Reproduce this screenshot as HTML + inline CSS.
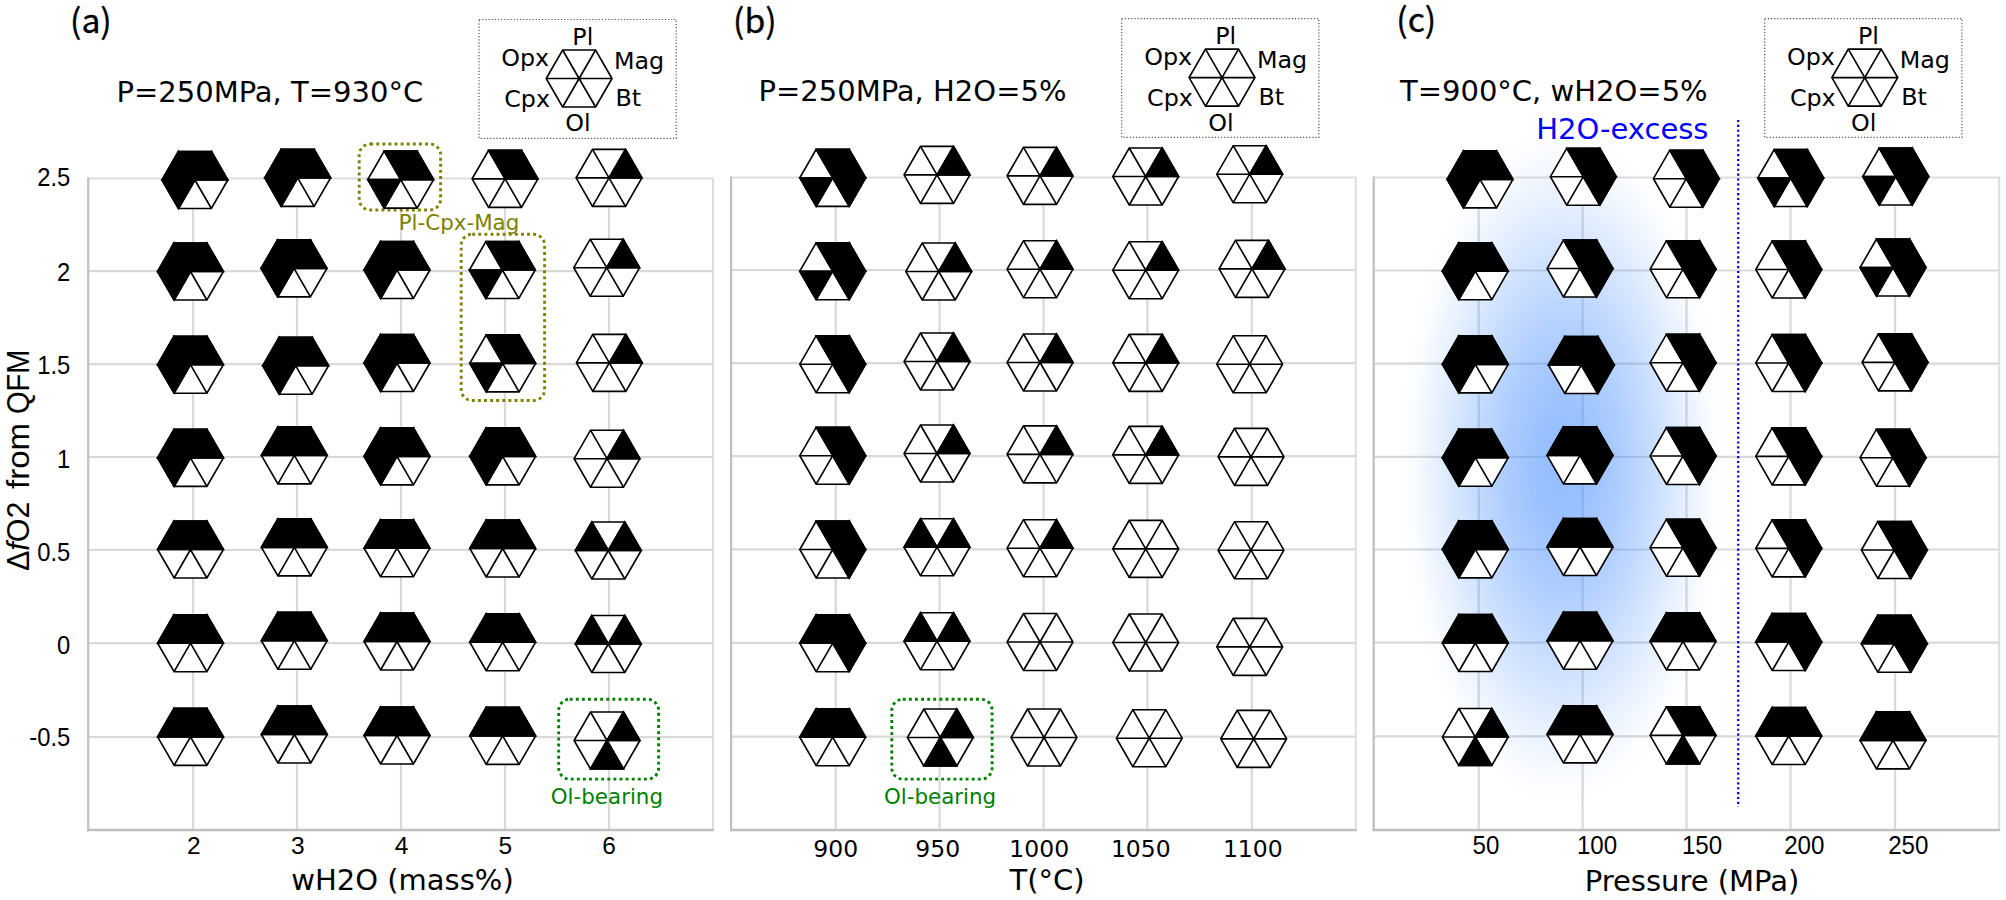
<!DOCTYPE html>
<html lang="en"><head><meta charset="utf-8"><title>Phase diagrams</title>
<style>
html,body{margin:0;padding:0;background:#fff;overflow:hidden}
svg{display:block}
.dj{font-family:"DejaVu Sans","Liberation Sans",sans-serif}
.ar{font-family:"Liberation Sans",sans-serif}
.h{fill:#fff;stroke:#000;stroke-width:1.65;stroke-linejoin:miter}
.k{fill:#000;stroke:#000;stroke-width:1.65;stroke-linejoin:miter}
.l{fill:none;stroke:#000;stroke-width:1.65}
.g{stroke:#d9d9d9;stroke-width:2.2;fill:none}
.s{stroke:#bfbfbf;stroke-width:2.2;fill:none}
.t{font-size:29px}
.nt{font-family:"Noto Sans CJK SC","Liberation Sans",sans-serif;font-size:33.7px;stroke:#000;stroke-width:0.35px}
.lg{font-size:23.8px}
.ta{font-size:24.5px}
.tb{font-size:23.5px}
</style></head><body>
<svg width="2006" height="900" viewBox="0 0 2006 900">
<defs>
<radialGradient id="glow" cx="0.5" cy="0.5" r="0.5">
<stop offset="0" stop-color="#4a90ff" stop-opacity="0.6"/>
<stop offset="0.2" stop-color="#4a90ff" stop-opacity="0.54"/>
<stop offset="0.4" stop-color="#4a90ff" stop-opacity="0.42"/>
<stop offset="0.6" stop-color="#4a90ff" stop-opacity="0.27"/>
<stop offset="0.8" stop-color="#4a90ff" stop-opacity="0.11"/>
<stop offset="0.92" stop-color="#4a90ff" stop-opacity="0.03"/>
<stop offset="1" stop-color="#4a90ff" stop-opacity="0"/>
</radialGradient>
</defs>
<rect width="2006" height="900" fill="#fff"/>
<path class="g" d="M193.1 178.4V830M297 178.4V830M401 178.4V830M505 178.4V830M609 178.4V830M88.2 271.2H713M88.2 364.2H713M88.2 457H713M88.2 549.9H713M88.2 643.2H713M88.2 737.2H713"/><path class="g" style="stroke:#dedede;stroke-width:2" d="M88.2 178.4H713V830"/><path class="s" d="M88.2 177.4V831.3"/><path class="s" style="stroke-width:2.7" d="M87.1 830H714"/><path class="g" d="M835.7 177.5V830M939.5 177.5V830M1043.5 177.5V830M1147.4 177.5V830M1251.8 177.5V830M731.1 270H1355.8M731.1 363.2H1355.8M731.1 456.1H1355.8M731.1 549.3H1355.8M731.1 642.8H1355.8M731.1 736.6H1355.8"/><path class="g" style="stroke:#dedede;stroke-width:2" d="M731.1 177.5H1355.8V830"/><path class="s" d="M731.1 176.5V831.3"/><path class="s" style="stroke-width:2.7" d="M730 830H1356.8"/><path class="g" d="M1478.7 177.5V830M1582.6 177.5V830M1686.5 177.5V830M1790.5 177.5V830M1895.1 177.5V830M1373.7 270.5H1999.2M1373.7 363.6H1999.2M1373.7 456.8H1999.2M1373.7 549.5H1999.2M1373.7 642.7H1999.2M1373.7 736.3H1999.2"/><path class="g" style="stroke:#dedede;stroke-width:2" d="M1373.7 177.5H1999.2V830"/><path class="s" d="M1373.7 176.5V831.3"/><path class="s" style="stroke-width:2.7" d="M1372.6 830H2000.2"/><ellipse cx="1562" cy="466" rx="163" ry="342" fill="url(#glow)"/><path d="M1738.2 120V807" stroke="#0404ee" stroke-width="2.3" stroke-dasharray="2.1 2.77" fill="none"/><rect x="359.2" y="144" width="81.4" height="66" rx="11" ry="11" fill="none" stroke="#808000" stroke-width="2.9" stroke-dasharray="2.9 3.2"/><rect x="461.2" y="234.2" width="83.4" height="166.3" rx="11" ry="11" fill="none" stroke="#808000" stroke-width="2.9" stroke-dasharray="2.9 3.2"/><rect x="558.7" y="699.3" width="99.9" height="79.8" rx="11" ry="11" fill="none" stroke="#008000" stroke-width="2.9" stroke-dasharray="2.9 3.2"/><rect x="891.8" y="699.3" width="100.3" height="79.8" rx="11" ry="11" fill="none" stroke="#008000" stroke-width="2.9" stroke-dasharray="2.9 3.2"/><polygon class="h" points="227.8,180 211.4,208.5 178.5,208.5 162,180 178.4,151.5 211.4,151.5"/><path class="k" d="M194.9 180L162 180L178.4 151.5ZM194.9 180L178.4 151.5L211.4 151.5ZM194.9 180L211.4 151.5L227.8 180ZM194.9 180L178.5 208.5L162 180Z"/><path class="l" d="M227.8 180L162 180M211.4 208.5L178.4 151.5M178.5 208.5L211.4 151.5"/><polygon class="h" points="330.6,177.8 314.1,206.3 281.2,206.3 264.8,177.8 281.2,149.3 314.1,149.3"/><path class="k" d="M297.7 177.8L264.8 177.8L281.2 149.3ZM297.7 177.8L281.2 149.3L314.1 149.3ZM297.7 177.8L314.1 149.3L330.6 177.8ZM297.7 177.8L281.2 206.3L264.8 177.8Z"/><path class="l" d="M330.6 177.8L264.8 177.8M314.1 206.3L281.2 149.3M281.2 206.3L314.1 149.3"/><polygon class="h" points="433.6,179.6 417.1,208.1 384.2,208.1 367.8,179.6 384.2,151.1 417.1,151.1"/><path class="k" d="M400.7 179.6L384.2 151.1L417.1 151.1ZM400.7 179.6L417.1 151.1L433.6 179.6ZM400.7 179.6L384.2 208.1L367.8 179.6Z"/><path class="l" d="M433.6 179.6L367.8 179.6M417.1 208.1L384.2 151.1M384.2 208.1L417.1 151.1"/><polygon class="h" points="537.9,178.8 521.5,207.3 488.6,207.3 472.1,178.8 488.6,150.3 521.5,150.3"/><path class="k" d="M505 178.8L488.6 150.3L521.5 150.3ZM505 178.8L521.5 150.3L537.9 178.8Z"/><path class="l" d="M537.9 178.8L472.1 178.8M521.5 207.3L488.6 150.3M488.6 207.3L521.5 150.3"/><polygon class="h" points="641.9,177.8 625.5,206.3 592.5,206.3 576.1,177.8 592.5,149.3 625.5,149.3"/><path class="k" d="M609 177.8L625.5 149.3L641.9 177.8Z"/><path class="l" d="M641.9 177.8L576.1 177.8M625.5 206.3L592.5 149.3M592.5 206.3L625.5 149.3"/><polygon class="h" points="223.4,271.5 206.9,300 174.1,300 157.6,271.5 174,243 206.9,243"/><path class="k" d="M190.5 271.5L157.6 271.5L174 243ZM190.5 271.5L174 243L206.9 243ZM190.5 271.5L206.9 243L223.4 271.5ZM190.5 271.5L174.1 300L157.6 271.5Z"/><path class="l" d="M223.4 271.5L157.6 271.5M206.9 300L174 243M174.1 300L206.9 243"/><polygon class="h" points="326.9,268.3 310.4,296.8 277.6,296.8 261.1,268.3 277.6,239.8 310.4,239.8"/><path class="k" d="M294 268.3L261.1 268.3L277.6 239.8ZM294 268.3L277.6 239.8L310.4 239.8ZM294 268.3L310.4 239.8L326.9 268.3ZM294 268.3L277.6 296.8L261.1 268.3Z"/><path class="l" d="M326.9 268.3L261.1 268.3M310.4 296.8L277.6 239.8M277.6 296.8L310.4 239.8"/><polygon class="h" points="429.9,270 413.4,298.5 380.6,298.5 364.1,270 380.6,241.5 413.4,241.5"/><path class="k" d="M397 270L364.1 270L380.6 241.5ZM397 270L380.6 241.5L413.4 241.5ZM397 270L413.4 241.5L429.9 270ZM397 270L380.6 298.5L364.1 270Z"/><path class="l" d="M429.9 270L364.1 270M413.4 298.5L380.6 241.5M380.6 298.5L413.4 241.5"/><polygon class="h" points="535.2,270 518.8,298.5 485.9,298.5 469.4,270 485.9,241.5 518.8,241.5"/><path class="k" d="M502.3 270L485.9 241.5L518.8 241.5ZM502.3 270L518.8 241.5L535.2 270ZM502.3 270L485.9 298.5L469.4 270Z"/><path class="l" d="M535.2 270L469.4 270M518.8 298.5L485.9 241.5M485.9 298.5L518.8 241.5"/><polygon class="h" points="639.6,267.7 623.2,296.2 590.2,296.2 573.8,267.7 590.2,239.2 623.2,239.2"/><path class="k" d="M606.7 267.7L623.2 239.2L639.6 267.7Z"/><path class="l" d="M639.6 267.7L573.8 267.7M623.2 296.2L590.2 239.2M590.2 296.2L623.2 239.2"/><polygon class="h" points="223.4,364.7 206.9,393.2 174.1,393.2 157.6,364.7 174,336.2 206.9,336.2"/><path class="k" d="M190.5 364.7L157.6 364.7L174 336.2ZM190.5 364.7L174 336.2L206.9 336.2ZM190.5 364.7L206.9 336.2L223.4 364.7ZM190.5 364.7L174.1 393.2L157.6 364.7Z"/><path class="l" d="M223.4 364.7L157.6 364.7M206.9 393.2L174 336.2M174.1 393.2L206.9 336.2"/><polygon class="h" points="328.6,365.7 312.1,394.2 279.2,394.2 262.8,365.7 279.2,337.2 312.1,337.2"/><path class="k" d="M295.7 365.7L262.8 365.7L279.2 337.2ZM295.7 365.7L279.2 337.2L312.1 337.2ZM295.7 365.7L312.1 337.2L328.6 365.7ZM295.7 365.7L279.2 394.2L262.8 365.7Z"/><path class="l" d="M328.6 365.7L262.8 365.7M312.1 394.2L279.2 337.2M279.2 394.2L312.1 337.2"/><polygon class="h" points="429.9,363 413.4,391.5 380.6,391.5 364.1,363 380.6,334.5 413.4,334.5"/><path class="k" d="M397 363L364.1 363L380.6 334.5ZM397 363L380.6 334.5L413.4 334.5ZM397 363L413.4 334.5L429.9 363ZM397 363L380.6 391.5L364.1 363Z"/><path class="l" d="M429.9 363L364.1 363M413.4 391.5L380.6 334.5M380.6 391.5L413.4 334.5"/><polygon class="h" points="535.6,363.3 519.1,391.8 486.2,391.8 469.8,363.3 486.2,334.8 519.1,334.8"/><path class="k" d="M502.7 363.3L486.2 334.8L519.1 334.8ZM502.7 363.3L519.1 334.8L535.6 363.3ZM502.7 363.3L486.2 391.8L469.8 363.3Z"/><path class="l" d="M535.6 363.3L469.8 363.3M519.1 391.8L486.2 334.8M486.2 391.8L519.1 334.8"/><polygon class="h" points="642.2,362.8 625.8,391.3 592.8,391.3 576.4,362.8 592.8,334.3 625.8,334.3"/><path class="k" d="M609.3 362.8L625.8 334.3L642.2 362.8Z"/><path class="l" d="M642.2 362.8L576.4 362.8M625.8 391.3L592.8 334.3M592.8 391.3L625.8 334.3"/><polygon class="h" points="223.4,457.8 206.9,486.3 174.1,486.3 157.6,457.8 174,429.3 206.9,429.3"/><path class="k" d="M190.5 457.8L157.6 457.8L174 429.3ZM190.5 457.8L174 429.3L206.9 429.3ZM190.5 457.8L206.9 429.3L223.4 457.8ZM190.5 457.8L174.1 486.3L157.6 457.8Z"/><path class="l" d="M223.4 457.8L157.6 457.8M206.9 486.3L174 429.3M174.1 486.3L206.9 429.3"/><polygon class="h" points="327.2,455.3 310.8,483.8 277.9,483.8 261.4,455.3 277.9,426.8 310.8,426.8"/><path class="k" d="M294.3 455.3L261.4 455.3L277.9 426.8ZM294.3 455.3L277.9 426.8L310.8 426.8ZM294.3 455.3L310.8 426.8L327.2 455.3Z"/><path class="l" d="M327.2 455.3L261.4 455.3M310.8 483.8L277.9 426.8M277.9 483.8L310.8 426.8"/><polygon class="h" points="429.9,456.3 413.4,484.8 380.6,484.8 364.1,456.3 380.6,427.8 413.4,427.8"/><path class="k" d="M397 456.3L364.1 456.3L380.6 427.8ZM397 456.3L380.6 427.8L413.4 427.8ZM397 456.3L413.4 427.8L429.9 456.3ZM397 456.3L380.6 484.8L364.1 456.3Z"/><path class="l" d="M429.9 456.3L364.1 456.3M413.4 484.8L380.6 427.8M380.6 484.8L413.4 427.8"/><polygon class="h" points="535.6,456.3 519.1,484.8 486.2,484.8 469.8,456.3 486.2,427.8 519.1,427.8"/><path class="k" d="M502.7 456.3L469.8 456.3L486.2 427.8ZM502.7 456.3L486.2 427.8L519.1 427.8ZM502.7 456.3L519.1 427.8L535.6 456.3ZM502.7 456.3L486.2 484.8L469.8 456.3Z"/><path class="l" d="M535.6 456.3L469.8 456.3M519.1 484.8L486.2 427.8M486.2 484.8L519.1 427.8"/><polygon class="h" points="639.9,458.7 623.5,487.2 590.5,487.2 574.1,458.7 590.5,430.2 623.5,430.2"/><path class="k" d="M607 458.7L623.5 430.2L639.9 458.7Z"/><path class="l" d="M639.9 458.7L574.1 458.7M623.5 487.2L590.5 430.2M590.5 487.2L623.5 430.2"/><polygon class="h" points="223.4,549.5 206.9,578 174.1,578 157.6,549.5 174,521 206.9,521"/><path class="k" d="M190.5 549.5L157.6 549.5L174 521ZM190.5 549.5L174 521L206.9 521ZM190.5 549.5L206.9 521L223.4 549.5Z"/><path class="l" d="M223.4 549.5L157.6 549.5M206.9 578L174 521M174.1 578L206.9 521"/><polygon class="h" points="327.2,547.3 310.8,575.8 277.9,575.8 261.4,547.3 277.9,518.8 310.8,518.8"/><path class="k" d="M294.3 547.3L261.4 547.3L277.9 518.8ZM294.3 547.3L277.9 518.8L310.8 518.8ZM294.3 547.3L310.8 518.8L327.2 547.3Z"/><path class="l" d="M327.2 547.3L261.4 547.3M310.8 575.8L277.9 518.8M277.9 575.8L310.8 518.8"/><polygon class="h" points="429.9,548.2 413.4,576.7 380.6,576.7 364.1,548.2 380.6,519.7 413.4,519.7"/><path class="k" d="M397 548.2L364.1 548.2L380.6 519.7ZM397 548.2L380.6 519.7L413.4 519.7ZM397 548.2L413.4 519.7L429.9 548.2Z"/><path class="l" d="M429.9 548.2L364.1 548.2M413.4 576.7L380.6 519.7M380.6 576.7L413.4 519.7"/><polygon class="h" points="535.6,548.5 519.1,577 486.2,577 469.8,548.5 486.2,520 519.1,520"/><path class="k" d="M502.7 548.5L469.8 548.5L486.2 520ZM502.7 548.5L486.2 520L519.1 520ZM502.7 548.5L519.1 520L535.6 548.5Z"/><path class="l" d="M535.6 548.5L469.8 548.5M519.1 577L486.2 520M486.2 577L519.1 520"/><polygon class="h" points="641.2,550.5 624.8,579 591.8,579 575.4,550.5 591.8,522 624.8,522"/><path class="k" d="M608.3 550.5L575.4 550.5L591.8 522ZM608.3 550.5L624.8 522L641.2 550.5Z"/><path class="l" d="M641.2 550.5L575.4 550.5M624.8 579L591.8 522M591.8 579L624.8 522"/><polygon class="h" points="223.4,643.2 206.9,671.7 174.1,671.7 157.6,643.2 174,614.7 206.9,614.7"/><path class="k" d="M190.5 643.2L157.6 643.2L174 614.7ZM190.5 643.2L174 614.7L206.9 614.7ZM190.5 643.2L206.9 614.7L223.4 643.2Z"/><path class="l" d="M223.4 643.2L157.6 643.2M206.9 671.7L174 614.7M174.1 671.7L206.9 614.7"/><polygon class="h" points="327.2,640.7 310.8,669.2 277.9,669.2 261.4,640.7 277.9,612.2 310.8,612.2"/><path class="k" d="M294.3 640.7L261.4 640.7L277.9 612.2ZM294.3 640.7L277.9 612.2L310.8 612.2ZM294.3 640.7L310.8 612.2L327.2 640.7Z"/><path class="l" d="M327.2 640.7L261.4 640.7M310.8 669.2L277.9 612.2M277.9 669.2L310.8 612.2"/><polygon class="h" points="429.9,641.5 413.4,670 380.6,670 364.1,641.5 380.6,613 413.4,613"/><path class="k" d="M397 641.5L364.1 641.5L380.6 613ZM397 641.5L380.6 613L413.4 613ZM397 641.5L413.4 613L429.9 641.5Z"/><path class="l" d="M429.9 641.5L364.1 641.5M413.4 670L380.6 613M380.6 670L413.4 613"/><polygon class="h" points="535.6,642.2 519.1,670.7 486.2,670.7 469.8,642.2 486.2,613.7 519.1,613.7"/><path class="k" d="M502.7 642.2L469.8 642.2L486.2 613.7ZM502.7 642.2L486.2 613.7L519.1 613.7ZM502.7 642.2L519.1 613.7L535.6 642.2Z"/><path class="l" d="M535.6 642.2L469.8 642.2M519.1 670.7L486.2 613.7M486.2 670.7L519.1 613.7"/><polygon class="h" points="641.2,644 624.8,672.5 591.8,672.5 575.4,644 591.8,615.5 624.8,615.5"/><path class="k" d="M608.3 644L575.4 644L591.8 615.5ZM608.3 644L624.8 615.5L641.2 644Z"/><path class="l" d="M641.2 644L575.4 644M624.8 672.5L591.8 615.5M591.8 672.5L624.8 615.5"/><polygon class="h" points="223.4,736.8 206.9,765.3 174.1,765.3 157.6,736.8 174,708.3 206.9,708.3"/><path class="k" d="M190.5 736.8L157.6 736.8L174 708.3ZM190.5 736.8L174 708.3L206.9 708.3ZM190.5 736.8L206.9 708.3L223.4 736.8Z"/><path class="l" d="M223.4 736.8L157.6 736.8M206.9 765.3L174 708.3M174.1 765.3L206.9 708.3"/><polygon class="h" points="327.2,734.5 310.8,763 277.9,763 261.4,734.5 277.9,706 310.8,706"/><path class="k" d="M294.3 734.5L261.4 734.5L277.9 706ZM294.3 734.5L277.9 706L310.8 706ZM294.3 734.5L310.8 706L327.2 734.5Z"/><path class="l" d="M327.2 734.5L261.4 734.5M310.8 763L277.9 706M277.9 763L310.8 706"/><polygon class="h" points="429.9,735.5 413.4,764 380.6,764 364.1,735.5 380.6,707 413.4,707"/><path class="k" d="M397 735.5L364.1 735.5L380.6 707ZM397 735.5L380.6 707L413.4 707ZM397 735.5L413.4 707L429.9 735.5Z"/><path class="l" d="M429.9 735.5L364.1 735.5M413.4 764L380.6 707M380.6 764L413.4 707"/><polygon class="h" points="535.6,735.8 519.1,764.3 486.2,764.3 469.8,735.8 486.2,707.3 519.1,707.3"/><path class="k" d="M502.7 735.8L469.8 735.8L486.2 707.3ZM502.7 735.8L486.2 707.3L519.1 707.3ZM502.7 735.8L519.1 707.3L535.6 735.8Z"/><path class="l" d="M535.6 735.8L469.8 735.8M519.1 764.3L486.2 707.3M486.2 764.3L519.1 707.3"/><polygon class="h" points="639.9,740.5 623.5,769 590.5,769 574.1,740.5 590.5,712 623.5,712"/><path class="k" d="M607 740.5L623.5 712L639.9 740.5ZM607 740.5L623.5 769L590.5 769Z"/><path class="l" d="M639.9 740.5L574.1 740.5M623.5 769L590.5 712M590.5 769L623.5 712"/>
<polygon class="h" points="865.6,177.8 849.2,206.3 816.2,206.3 799.8,177.8 816.2,149.3 849.2,149.3"/><path class="k" d="M832.7 177.8L816.2 149.3L849.2 149.3ZM832.7 177.8L849.2 149.3L865.6 177.8ZM832.7 177.8L865.6 177.8L849.2 206.3ZM832.7 177.8L816.2 206.3L799.8 177.8Z"/><path class="l" d="M865.6 177.8L799.8 177.8M849.2 206.3L816.2 149.3M816.2 206.3L849.2 149.3"/><polygon class="h" points="969.9,174.8 953.5,203.3 920.5,203.3 904.1,174.8 920.5,146.3 953.5,146.3"/><path class="k" d="M937 174.8L953.5 146.3L969.9 174.8Z"/><path class="l" d="M969.9 174.8L904.1 174.8M953.5 203.3L920.5 146.3M920.5 203.3L953.5 146.3"/><polygon class="h" points="1072.9,175.8 1056.5,204.3 1023.5,204.3 1007.1,175.8 1023.5,147.3 1056.5,147.3"/><path class="k" d="M1040 175.8L1056.5 147.3L1072.9 175.8Z"/><path class="l" d="M1072.9 175.8L1007.1 175.8M1056.5 204.3L1023.5 147.3M1023.5 204.3L1056.5 147.3"/><polygon class="h" points="1178.6,176.5 1162.2,205 1129.2,205 1112.8,176.5 1129.2,148 1162.2,148"/><path class="k" d="M1145.7 176.5L1162.2 148L1178.6 176.5Z"/><path class="l" d="M1178.6 176.5L1112.8 176.5M1162.2 205L1129.2 148M1129.2 205L1162.2 148"/><polygon class="h" points="1282.6,174.2 1266.2,202.7 1233.2,202.7 1216.8,174.2 1233.2,145.7 1266.2,145.7"/><path class="k" d="M1249.7 174.2L1266.2 145.7L1282.6 174.2Z"/><path class="l" d="M1282.6 174.2L1216.8 174.2M1266.2 202.7L1233.2 145.7M1233.2 202.7L1266.2 145.7"/><polygon class="h" points="865.6,271.2 849.2,299.7 816.2,299.7 799.8,271.2 816.2,242.7 849.2,242.7"/><path class="k" d="M832.7 271.2L816.2 242.7L849.2 242.7ZM832.7 271.2L849.2 242.7L865.6 271.2ZM832.7 271.2L865.6 271.2L849.2 299.7ZM832.7 271.2L816.2 299.7L799.8 271.2Z"/><path class="l" d="M865.6 271.2L799.8 271.2M849.2 299.7L816.2 242.7M816.2 299.7L849.2 242.7"/><polygon class="h" points="971.6,271.5 955.2,300 922.2,300 905.8,271.5 922.2,243 955.2,243"/><path class="k" d="M938.7 271.5L955.2 243L971.6 271.5Z"/><path class="l" d="M971.6 271.5L905.8 271.5M955.2 300L922.2 243M922.2 300L955.2 243"/><polygon class="h" points="1072.9,269.2 1056.5,297.7 1023.5,297.7 1007.1,269.2 1023.5,240.7 1056.5,240.7"/><path class="k" d="M1040 269.2L1056.5 240.7L1072.9 269.2Z"/><path class="l" d="M1072.9 269.2L1007.1 269.2M1056.5 297.7L1023.5 240.7M1023.5 297.7L1056.5 240.7"/><polygon class="h" points="1178.6,270.2 1162.2,298.7 1129.2,298.7 1112.8,270.2 1129.2,241.7 1162.2,241.7"/><path class="k" d="M1145.7 270.2L1162.2 241.7L1178.6 270.2Z"/><path class="l" d="M1178.6 270.2L1112.8 270.2M1162.2 298.7L1129.2 241.7M1129.2 298.7L1162.2 241.7"/><polygon class="h" points="1284.9,268.8 1268.5,297.3 1235.5,297.3 1219.1,268.8 1235.5,240.3 1268.5,240.3"/><path class="k" d="M1252 268.8L1268.5 240.3L1284.9 268.8Z"/><path class="l" d="M1284.9 268.8L1219.1 268.8M1268.5 297.3L1235.5 240.3M1235.5 297.3L1268.5 240.3"/><polygon class="h" points="865.6,364.2 849.2,392.7 816.2,392.7 799.8,364.2 816.2,335.7 849.2,335.7"/><path class="k" d="M832.7 364.2L816.2 335.7L849.2 335.7ZM832.7 364.2L849.2 335.7L865.6 364.2ZM832.7 364.2L865.6 364.2L849.2 392.7Z"/><path class="l" d="M865.6 364.2L799.8 364.2M849.2 392.7L816.2 335.7M816.2 392.7L849.2 335.7"/><polygon class="h" points="969.9,361.5 953.5,390 920.5,390 904.1,361.5 920.5,333 953.5,333"/><path class="k" d="M937 361.5L953.5 333L969.9 361.5Z"/><path class="l" d="M969.9 361.5L904.1 361.5M953.5 390L920.5 333M920.5 390L953.5 333"/><polygon class="h" points="1072.9,362.5 1056.5,391 1023.5,391 1007.1,362.5 1023.5,334 1056.5,334"/><path class="k" d="M1040 362.5L1056.5 334L1072.9 362.5Z"/><path class="l" d="M1072.9 362.5L1007.1 362.5M1056.5 391L1023.5 334M1023.5 391L1056.5 334"/><polygon class="h" points="1178.6,362.8 1162.2,391.3 1129.2,391.3 1112.8,362.8 1129.2,334.3 1162.2,334.3"/><path class="k" d="M1145.7 362.8L1162.2 334.3L1178.6 362.8Z"/><path class="l" d="M1178.6 362.8L1112.8 362.8M1162.2 391.3L1129.2 334.3M1129.2 391.3L1162.2 334.3"/><polygon class="h" points="1282.6,364.2 1266.2,392.7 1233.2,392.7 1216.8,364.2 1233.2,335.7 1266.2,335.7"/><path class="l" d="M1282.6 364.2L1216.8 364.2M1266.2 392.7L1233.2 335.7M1233.2 392.7L1266.2 335.7"/><polygon class="h" points="865.6,455.7 849.2,484.2 816.2,484.2 799.8,455.7 816.2,427.2 849.2,427.2"/><path class="k" d="M832.7 455.7L816.2 427.2L849.2 427.2ZM832.7 455.7L849.2 427.2L865.6 455.7ZM832.7 455.7L865.6 455.7L849.2 484.2Z"/><path class="l" d="M865.6 455.7L799.8 455.7M849.2 484.2L816.2 427.2M816.2 484.2L849.2 427.2"/><polygon class="h" points="969.9,453.5 953.5,482 920.5,482 904.1,453.5 920.5,425 953.5,425"/><path class="k" d="M937 453.5L953.5 425L969.9 453.5Z"/><path class="l" d="M969.9 453.5L904.1 453.5M953.5 482L920.5 425M920.5 482L953.5 425"/><polygon class="h" points="1072.9,454.3 1056.5,482.8 1023.5,482.8 1007.1,454.3 1023.5,425.8 1056.5,425.8"/><path class="k" d="M1040 454.3L1056.5 425.8L1072.9 454.3Z"/><path class="l" d="M1072.9 454.3L1007.1 454.3M1056.5 482.8L1023.5 425.8M1023.5 482.8L1056.5 425.8"/><polygon class="h" points="1178.6,454.8 1162.2,483.3 1129.2,483.3 1112.8,454.8 1129.2,426.3 1162.2,426.3"/><path class="k" d="M1145.7 454.8L1162.2 426.3L1178.6 454.8Z"/><path class="l" d="M1178.6 454.8L1112.8 454.8M1162.2 483.3L1129.2 426.3M1129.2 483.3L1162.2 426.3"/><polygon class="h" points="1283.9,456.8 1267.5,485.3 1234.5,485.3 1218.1,456.8 1234.5,428.3 1267.5,428.3"/><path class="l" d="M1283.9 456.8L1218.1 456.8M1267.5 485.3L1234.5 428.3M1234.5 485.3L1267.5 428.3"/><polygon class="h" points="865.6,549.5 849.2,578 816.2,578 799.8,549.5 816.2,521 849.2,521"/><path class="k" d="M832.7 549.5L816.2 521L849.2 521ZM832.7 549.5L849.2 521L865.6 549.5ZM832.7 549.5L865.6 549.5L849.2 578Z"/><path class="l" d="M865.6 549.5L799.8 549.5M849.2 578L816.2 521M816.2 578L849.2 521"/><polygon class="h" points="969.9,547.2 953.5,575.7 920.5,575.7 904.1,547.2 920.5,518.7 953.5,518.7"/><path class="k" d="M937 547.2L904.1 547.2L920.5 518.7ZM937 547.2L953.5 518.7L969.9 547.2Z"/><path class="l" d="M969.9 547.2L904.1 547.2M953.5 575.7L920.5 518.7M920.5 575.7L953.5 518.7"/><polygon class="h" points="1072.9,548.2 1056.5,576.7 1023.5,576.7 1007.1,548.2 1023.5,519.7 1056.5,519.7"/><path class="k" d="M1040 548.2L1056.5 519.7L1072.9 548.2Z"/><path class="l" d="M1072.9 548.2L1007.1 548.2M1056.5 576.7L1023.5 519.7M1023.5 576.7L1056.5 519.7"/><polygon class="h" points="1178.6,548.8 1162.2,577.3 1129.2,577.3 1112.8,548.8 1129.2,520.3 1162.2,520.3"/><path class="l" d="M1178.6 548.8L1112.8 548.8M1162.2 577.3L1129.2 520.3M1129.2 577.3L1162.2 520.3"/><polygon class="h" points="1283.9,550.2 1267.5,578.7 1234.5,578.7 1218.1,550.2 1234.5,521.7 1267.5,521.7"/><path class="l" d="M1283.9 550.2L1218.1 550.2M1267.5 578.7L1234.5 521.7M1234.5 578.7L1267.5 521.7"/><polygon class="h" points="865.6,643.2 849.2,671.7 816.2,671.7 799.8,643.2 816.2,614.7 849.2,614.7"/><path class="k" d="M832.7 643.2L799.8 643.2L816.2 614.7ZM832.7 643.2L816.2 614.7L849.2 614.7ZM832.7 643.2L849.2 614.7L865.6 643.2ZM832.7 643.2L865.6 643.2L849.2 671.7Z"/><path class="l" d="M865.6 643.2L799.8 643.2M849.2 671.7L816.2 614.7M816.2 671.7L849.2 614.7"/><polygon class="h" points="969.9,641.2 953.5,669.7 920.5,669.7 904.1,641.2 920.5,612.7 953.5,612.7"/><path class="k" d="M937 641.2L904.1 641.2L920.5 612.7ZM937 641.2L953.5 612.7L969.9 641.2Z"/><path class="l" d="M969.9 641.2L904.1 641.2M953.5 669.7L920.5 612.7M920.5 669.7L953.5 612.7"/><polygon class="h" points="1072.9,642 1056.5,670.5 1023.5,670.5 1007.1,642 1023.5,613.5 1056.5,613.5"/><path class="l" d="M1072.9 642L1007.1 642M1056.5 670.5L1023.5 613.5M1023.5 670.5L1056.5 613.5"/><polygon class="h" points="1178.6,642.5 1162.2,671 1129.2,671 1112.8,642.5 1129.2,614 1162.2,614"/><path class="l" d="M1178.6 642.5L1112.8 642.5M1162.2 671L1129.2 614M1129.2 671L1162.2 614"/><polygon class="h" points="1282.6,646.8 1266.2,675.3 1233.2,675.3 1216.8,646.8 1233.2,618.3 1266.2,618.3"/><path class="l" d="M1282.6 646.8L1216.8 646.8M1266.2 675.3L1233.2 618.3M1233.2 675.3L1266.2 618.3"/><polygon class="h" points="865.6,737.2 849.2,765.7 816.2,765.7 799.8,737.2 816.2,708.7 849.2,708.7"/><path class="k" d="M832.7 737.2L799.8 737.2L816.2 708.7ZM832.7 737.2L816.2 708.7L849.2 708.7ZM832.7 737.2L849.2 708.7L865.6 737.2Z"/><path class="l" d="M865.6 737.2L799.8 737.2M849.2 765.7L816.2 708.7M816.2 765.7L849.2 708.7"/><polygon class="h" points="973.2,737.5 956.8,766 923.8,766 907.4,737.5 923.8,709 956.8,709"/><path class="k" d="M940.3 737.5L956.8 709L973.2 737.5ZM940.3 737.5L956.8 766L923.8 766Z"/><path class="l" d="M973.2 737.5L907.4 737.5M956.8 766L923.8 709M923.8 766L956.8 709"/><polygon class="h" points="1076.9,737.5 1060.5,766 1027.5,766 1011.1,737.5 1027.5,709 1060.5,709"/><path class="l" d="M1076.9 737.5L1011.1 737.5M1060.5 766L1027.5 709M1027.5 766L1060.5 709"/><polygon class="h" points="1182.2,738.2 1165.8,766.7 1132.8,766.7 1116.4,738.2 1132.8,709.7 1165.8,709.7"/><path class="l" d="M1182.2 738.2L1116.4 738.2M1165.8 766.7L1132.8 709.7M1132.8 766.7L1165.8 709.7"/><polygon class="h" points="1286.6,738.8 1270.2,767.3 1237.2,767.3 1220.8,738.8 1237.2,710.3 1270.2,710.3"/><path class="l" d="M1286.6 738.8L1220.8 738.8M1270.2 767.3L1237.2 710.3M1237.2 767.3L1270.2 710.3"/>
<polygon class="h" points="1512.9,179.3 1496.5,207.8 1463.5,207.8 1447.1,179.3 1463.5,150.8 1496.5,150.8"/><path class="k" d="M1480 179.3L1447.1 179.3L1463.5 150.8ZM1480 179.3L1463.5 150.8L1496.5 150.8ZM1480 179.3L1496.5 150.8L1512.9 179.3ZM1480 179.3L1463.5 207.8L1447.1 179.3Z"/><path class="l" d="M1512.9 179.3L1447.1 179.3M1496.5 207.8L1463.5 150.8M1463.5 207.8L1496.5 150.8"/><polygon class="h" points="1616.2,176.7 1599.8,205.2 1566.8,205.2 1550.4,176.7 1566.8,148.2 1599.8,148.2"/><path class="k" d="M1583.3 176.7L1566.8 148.2L1599.8 148.2ZM1583.3 176.7L1599.8 148.2L1616.2 176.7ZM1583.3 176.7L1616.2 176.7L1599.8 205.2Z"/><path class="l" d="M1616.2 176.7L1550.4 176.7M1599.8 205.2L1566.8 148.2M1566.8 205.2L1599.8 148.2"/><polygon class="h" points="1719.2,178.7 1702.8,207.2 1669.8,207.2 1653.4,178.7 1669.8,150.2 1702.8,150.2"/><path class="k" d="M1686.3 178.7L1669.8 150.2L1702.8 150.2ZM1686.3 178.7L1702.8 150.2L1719.2 178.7ZM1686.3 178.7L1719.2 178.7L1702.8 207.2Z"/><path class="l" d="M1719.2 178.7L1653.4 178.7M1702.8 207.2L1669.8 150.2M1669.8 207.2L1702.8 150.2"/><polygon class="h" points="1823.6,178 1807.2,206.5 1774.2,206.5 1757.8,178 1774.2,149.5 1807.2,149.5"/><path class="k" d="M1790.7 178L1774.2 149.5L1807.2 149.5ZM1790.7 178L1807.2 149.5L1823.6 178ZM1790.7 178L1823.6 178L1807.2 206.5ZM1790.7 178L1774.2 206.5L1757.8 178Z"/><path class="l" d="M1823.6 178L1757.8 178M1807.2 206.5L1774.2 149.5M1774.2 206.5L1807.2 149.5"/><polygon class="h" points="1928.6,176.5 1912.2,205 1879.2,205 1862.8,176.5 1879.2,148 1912.2,148"/><path class="k" d="M1895.7 176.5L1879.2 148L1912.2 148ZM1895.7 176.5L1912.2 148L1928.6 176.5ZM1895.7 176.5L1928.6 176.5L1912.2 205ZM1895.7 176.5L1879.2 205L1862.8 176.5Z"/><path class="l" d="M1928.6 176.5L1862.8 176.5M1912.2 205L1879.2 148M1879.2 205L1912.2 148"/><polygon class="h" points="1508.2,271.2 1491.8,299.7 1458.8,299.7 1442.4,271.2 1458.8,242.7 1491.8,242.7"/><path class="k" d="M1475.3 271.2L1442.4 271.2L1458.8 242.7ZM1475.3 271.2L1458.8 242.7L1491.8 242.7ZM1475.3 271.2L1491.8 242.7L1508.2 271.2ZM1475.3 271.2L1458.8 299.7L1442.4 271.2Z"/><path class="l" d="M1508.2 271.2L1442.4 271.2M1491.8 299.7L1458.8 242.7M1458.8 299.7L1491.8 242.7"/><polygon class="h" points="1612.9,268.5 1596.5,297 1563.5,297 1547.1,268.5 1563.5,240 1596.5,240"/><path class="k" d="M1580 268.5L1563.5 240L1596.5 240ZM1580 268.5L1596.5 240L1612.9 268.5ZM1580 268.5L1612.9 268.5L1596.5 297Z"/><path class="l" d="M1612.9 268.5L1547.1 268.5M1596.5 297L1563.5 240M1563.5 297L1596.5 240"/><polygon class="h" points="1715.9,269.2 1699.5,297.7 1666.5,297.7 1650.1,269.2 1666.5,240.7 1699.5,240.7"/><path class="k" d="M1683 269.2L1666.5 240.7L1699.5 240.7ZM1683 269.2L1699.5 240.7L1715.9 269.2ZM1683 269.2L1715.9 269.2L1699.5 297.7Z"/><path class="l" d="M1715.9 269.2L1650.1 269.2M1699.5 297.7L1666.5 240.7M1666.5 297.7L1699.5 240.7"/><polygon class="h" points="1821.6,269.5 1805.2,298 1772.2,298 1755.8,269.5 1772.2,241 1805.2,241"/><path class="k" d="M1788.7 269.5L1772.2 241L1805.2 241ZM1788.7 269.5L1805.2 241L1821.6 269.5ZM1788.7 269.5L1821.6 269.5L1805.2 298Z"/><path class="l" d="M1821.6 269.5L1755.8 269.5M1805.2 298L1772.2 241M1772.2 298L1805.2 241"/><polygon class="h" points="1925.9,267.5 1909.5,296 1876.5,296 1860.1,267.5 1876.5,239 1909.5,239"/><path class="k" d="M1893 267.5L1876.5 239L1909.5 239ZM1893 267.5L1909.5 239L1925.9 267.5ZM1893 267.5L1925.9 267.5L1909.5 296ZM1893 267.5L1876.5 296L1860.1 267.5Z"/><path class="l" d="M1925.9 267.5L1860.1 267.5M1909.5 296L1876.5 239M1876.5 296L1909.5 239"/><polygon class="h" points="1508.2,364.3 1491.8,392.8 1458.8,392.8 1442.4,364.3 1458.8,335.8 1491.8,335.8"/><path class="k" d="M1475.3 364.3L1442.4 364.3L1458.8 335.8ZM1475.3 364.3L1458.8 335.8L1491.8 335.8ZM1475.3 364.3L1491.8 335.8L1508.2 364.3ZM1475.3 364.3L1458.8 392.8L1442.4 364.3Z"/><path class="l" d="M1508.2 364.3L1442.4 364.3M1491.8 392.8L1458.8 335.8M1458.8 392.8L1491.8 335.8"/><polygon class="h" points="1614.2,365 1597.8,393.5 1564.8,393.5 1548.4,365 1564.8,336.5 1597.8,336.5"/><path class="k" d="M1581.3 365L1548.4 365L1564.8 336.5ZM1581.3 365L1564.8 336.5L1597.8 336.5ZM1581.3 365L1597.8 336.5L1614.2 365ZM1581.3 365L1614.2 365L1597.8 393.5Z"/><path class="l" d="M1614.2 365L1548.4 365M1597.8 393.5L1564.8 336.5M1564.8 393.5L1597.8 336.5"/><polygon class="h" points="1715.9,362.7 1699.5,391.2 1666.5,391.2 1650.1,362.7 1666.5,334.2 1699.5,334.2"/><path class="k" d="M1683 362.7L1666.5 334.2L1699.5 334.2ZM1683 362.7L1699.5 334.2L1715.9 362.7ZM1683 362.7L1715.9 362.7L1699.5 391.2Z"/><path class="l" d="M1715.9 362.7L1650.1 362.7M1699.5 391.2L1666.5 334.2M1666.5 391.2L1699.5 334.2"/><polygon class="h" points="1821.6,363 1805.2,391.5 1772.2,391.5 1755.8,363 1772.2,334.5 1805.2,334.5"/><path class="k" d="M1788.7 363L1772.2 334.5L1805.2 334.5ZM1788.7 363L1805.2 334.5L1821.6 363ZM1788.7 363L1821.6 363L1805.2 391.5Z"/><path class="l" d="M1821.6 363L1755.8 363M1805.2 391.5L1772.2 334.5M1772.2 391.5L1805.2 334.5"/><polygon class="h" points="1927.9,362.3 1911.5,390.8 1878.5,390.8 1862.1,362.3 1878.5,333.8 1911.5,333.8"/><path class="k" d="M1895 362.3L1878.5 333.8L1911.5 333.8ZM1895 362.3L1911.5 333.8L1927.9 362.3ZM1895 362.3L1927.9 362.3L1911.5 390.8Z"/><path class="l" d="M1927.9 362.3L1862.1 362.3M1911.5 390.8L1878.5 333.8M1878.5 390.8L1911.5 333.8"/><polygon class="h" points="1508.2,457.7 1491.8,486.2 1458.8,486.2 1442.4,457.7 1458.8,429.2 1491.8,429.2"/><path class="k" d="M1475.3 457.7L1442.4 457.7L1458.8 429.2ZM1475.3 457.7L1458.8 429.2L1491.8 429.2ZM1475.3 457.7L1491.8 429.2L1508.2 457.7ZM1475.3 457.7L1458.8 486.2L1442.4 457.7Z"/><path class="l" d="M1508.2 457.7L1442.4 457.7M1491.8 486.2L1458.8 429.2M1458.8 486.2L1491.8 429.2"/><polygon class="h" points="1612.9,455.3 1596.5,483.8 1563.5,483.8 1547.1,455.3 1563.5,426.8 1596.5,426.8"/><path class="k" d="M1580 455.3L1547.1 455.3L1563.5 426.8ZM1580 455.3L1563.5 426.8L1596.5 426.8ZM1580 455.3L1596.5 426.8L1612.9 455.3ZM1580 455.3L1612.9 455.3L1596.5 483.8Z"/><path class="l" d="M1612.9 455.3L1547.1 455.3M1596.5 483.8L1563.5 426.8M1563.5 483.8L1596.5 426.8"/><polygon class="h" points="1715.9,456 1699.5,484.5 1666.5,484.5 1650.1,456 1666.5,427.5 1699.5,427.5"/><path class="k" d="M1683 456L1666.5 427.5L1699.5 427.5ZM1683 456L1699.5 427.5L1715.9 456ZM1683 456L1715.9 456L1699.5 484.5Z"/><path class="l" d="M1715.9 456L1650.1 456M1699.5 484.5L1666.5 427.5M1666.5 484.5L1699.5 427.5"/><polygon class="h" points="1821.6,456.3 1805.2,484.8 1772.2,484.8 1755.8,456.3 1772.2,427.8 1805.2,427.8"/><path class="k" d="M1788.7 456.3L1772.2 427.8L1805.2 427.8ZM1788.7 456.3L1805.2 427.8L1821.6 456.3ZM1788.7 456.3L1821.6 456.3L1805.2 484.8Z"/><path class="l" d="M1821.6 456.3L1755.8 456.3M1805.2 484.8L1772.2 427.8M1772.2 484.8L1805.2 427.8"/><polygon class="h" points="1925.9,457.7 1909.5,486.2 1876.5,486.2 1860.1,457.7 1876.5,429.2 1909.5,429.2"/><path class="k" d="M1893 457.7L1876.5 429.2L1909.5 429.2ZM1893 457.7L1909.5 429.2L1925.9 457.7ZM1893 457.7L1925.9 457.7L1909.5 486.2Z"/><path class="l" d="M1925.9 457.7L1860.1 457.7M1909.5 486.2L1876.5 429.2M1876.5 486.2L1909.5 429.2"/><polygon class="h" points="1508.2,549.3 1491.8,577.8 1458.8,577.8 1442.4,549.3 1458.8,520.8 1491.8,520.8"/><path class="k" d="M1475.3 549.3L1442.4 549.3L1458.8 520.8ZM1475.3 549.3L1458.8 520.8L1491.8 520.8ZM1475.3 549.3L1491.8 520.8L1508.2 549.3ZM1475.3 549.3L1458.8 577.8L1442.4 549.3Z"/><path class="l" d="M1508.2 549.3L1442.4 549.3M1491.8 577.8L1458.8 520.8M1458.8 577.8L1491.8 520.8"/><polygon class="h" points="1612.9,547 1596.5,575.5 1563.5,575.5 1547.1,547 1563.5,518.5 1596.5,518.5"/><path class="k" d="M1580 547L1547.1 547L1563.5 518.5ZM1580 547L1563.5 518.5L1596.5 518.5ZM1580 547L1596.5 518.5L1612.9 547Z"/><path class="l" d="M1612.9 547L1547.1 547M1596.5 575.5L1563.5 518.5M1563.5 575.5L1596.5 518.5"/><polygon class="h" points="1715.9,547.7 1699.5,576.2 1666.5,576.2 1650.1,547.7 1666.5,519.2 1699.5,519.2"/><path class="k" d="M1683 547.7L1666.5 519.2L1699.5 519.2ZM1683 547.7L1699.5 519.2L1715.9 547.7ZM1683 547.7L1715.9 547.7L1699.5 576.2Z"/><path class="l" d="M1715.9 547.7L1650.1 547.7M1699.5 576.2L1666.5 519.2M1666.5 576.2L1699.5 519.2"/><polygon class="h" points="1821.6,548.3 1805.2,576.8 1772.2,576.8 1755.8,548.3 1772.2,519.8 1805.2,519.8"/><path class="k" d="M1788.7 548.3L1772.2 519.8L1805.2 519.8ZM1788.7 548.3L1805.2 519.8L1821.6 548.3ZM1788.7 548.3L1821.6 548.3L1805.2 576.8Z"/><path class="l" d="M1821.6 548.3L1755.8 548.3M1805.2 576.8L1772.2 519.8M1772.2 576.8L1805.2 519.8"/><polygon class="h" points="1927.2,550 1910.8,578.5 1877.8,578.5 1861.4,550 1877.8,521.5 1910.8,521.5"/><path class="k" d="M1894.3 550L1877.8 521.5L1910.8 521.5ZM1894.3 550L1910.8 521.5L1927.2 550ZM1894.3 550L1927.2 550L1910.8 578.5Z"/><path class="l" d="M1927.2 550L1861.4 550M1910.8 578.5L1877.8 521.5M1877.8 578.5L1910.8 521.5"/><polygon class="h" points="1508.2,643 1491.8,671.5 1458.8,671.5 1442.4,643 1458.8,614.5 1491.8,614.5"/><path class="k" d="M1475.3 643L1442.4 643L1458.8 614.5ZM1475.3 643L1458.8 614.5L1491.8 614.5ZM1475.3 643L1491.8 614.5L1508.2 643Z"/><path class="l" d="M1508.2 643L1442.4 643M1491.8 671.5L1458.8 614.5M1458.8 671.5L1491.8 614.5"/><polygon class="h" points="1612.9,640.7 1596.5,669.2 1563.5,669.2 1547.1,640.7 1563.5,612.2 1596.5,612.2"/><path class="k" d="M1580 640.7L1547.1 640.7L1563.5 612.2ZM1580 640.7L1563.5 612.2L1596.5 612.2ZM1580 640.7L1596.5 612.2L1612.9 640.7Z"/><path class="l" d="M1612.9 640.7L1547.1 640.7M1596.5 669.2L1563.5 612.2M1563.5 669.2L1596.5 612.2"/><polygon class="h" points="1715.9,641.3 1699.5,669.8 1666.5,669.8 1650.1,641.3 1666.5,612.8 1699.5,612.8"/><path class="k" d="M1683 641.3L1650.1 641.3L1666.5 612.8ZM1683 641.3L1666.5 612.8L1699.5 612.8ZM1683 641.3L1699.5 612.8L1715.9 641.3Z"/><path class="l" d="M1715.9 641.3L1650.1 641.3M1699.5 669.8L1666.5 612.8M1666.5 669.8L1699.5 612.8"/><polygon class="h" points="1821.6,642 1805.2,670.5 1772.2,670.5 1755.8,642 1772.2,613.5 1805.2,613.5"/><path class="k" d="M1788.7 642L1755.8 642L1772.2 613.5ZM1788.7 642L1772.2 613.5L1805.2 613.5ZM1788.7 642L1805.2 613.5L1821.6 642ZM1788.7 642L1821.6 642L1805.2 670.5Z"/><path class="l" d="M1821.6 642L1755.8 642M1805.2 670.5L1772.2 613.5M1772.2 670.5L1805.2 613.5"/><polygon class="h" points="1927.2,643.7 1910.8,672.2 1877.8,672.2 1861.4,643.7 1877.8,615.2 1910.8,615.2"/><path class="k" d="M1894.3 643.7L1861.4 643.7L1877.8 615.2ZM1894.3 643.7L1877.8 615.2L1910.8 615.2ZM1894.3 643.7L1910.8 615.2L1927.2 643.7ZM1894.3 643.7L1927.2 643.7L1910.8 672.2Z"/><path class="l" d="M1927.2 643.7L1861.4 643.7M1910.8 672.2L1877.8 615.2M1877.8 672.2L1910.8 615.2"/><polygon class="h" points="1508.2,737 1491.8,765.5 1458.8,765.5 1442.4,737 1458.8,708.5 1491.8,708.5"/><path class="k" d="M1475.3 737L1491.8 708.5L1508.2 737ZM1475.3 737L1491.8 765.5L1458.8 765.5Z"/><path class="l" d="M1508.2 737L1442.4 737M1491.8 765.5L1458.8 708.5M1458.8 765.5L1491.8 708.5"/><polygon class="h" points="1612.9,734.3 1596.5,762.8 1563.5,762.8 1547.1,734.3 1563.5,705.8 1596.5,705.8"/><path class="k" d="M1580 734.3L1547.1 734.3L1563.5 705.8ZM1580 734.3L1563.5 705.8L1596.5 705.8ZM1580 734.3L1596.5 705.8L1612.9 734.3Z"/><path class="l" d="M1612.9 734.3L1547.1 734.3M1596.5 762.8L1563.5 705.8M1563.5 762.8L1596.5 705.8"/><polygon class="h" points="1715.9,735.3 1699.5,763.8 1666.5,763.8 1650.1,735.3 1666.5,706.8 1699.5,706.8"/><path class="k" d="M1683 735.3L1666.5 706.8L1699.5 706.8ZM1683 735.3L1699.5 706.8L1715.9 735.3ZM1683 735.3L1699.5 763.8L1666.5 763.8Z"/><path class="l" d="M1715.9 735.3L1650.1 735.3M1699.5 763.8L1666.5 706.8M1666.5 763.8L1699.5 706.8"/><polygon class="h" points="1821.6,736 1805.2,764.5 1772.2,764.5 1755.8,736 1772.2,707.5 1805.2,707.5"/><path class="k" d="M1788.7 736L1755.8 736L1772.2 707.5ZM1788.7 736L1772.2 707.5L1805.2 707.5ZM1788.7 736L1805.2 707.5L1821.6 736Z"/><path class="l" d="M1821.6 736L1755.8 736M1805.2 764.5L1772.2 707.5M1772.2 764.5L1805.2 707.5"/><polygon class="h" points="1925.9,740.3 1909.5,768.8 1876.5,768.8 1860.1,740.3 1876.5,711.8 1909.5,711.8"/><path class="k" d="M1893 740.3L1860.1 740.3L1876.5 711.8ZM1893 740.3L1876.5 711.8L1909.5 711.8ZM1893 740.3L1909.5 711.8L1925.9 740.3Z"/><path class="l" d="M1925.9 740.3L1860.1 740.3M1909.5 768.8L1876.5 711.8M1876.5 768.8L1909.5 711.8"/>
<rect x="479" y="19.5" width="197.2" height="118.8" fill="#fff" stroke="#505050" stroke-width="1.2" stroke-dasharray="1.2 1.95"/><polygon class="h" points="612,78.5 595.6,107 562.6,107 546.2,78.5 562.6,50 595.6,50"/><path class="l" d="M612 78.5L546.2 78.5M595.6 107L562.6 50M562.6 107L595.6 50"/><text class="dj lg" x="582.8" y="44.5" text-anchor="middle">Pl</text><text class="dj lg" x="549.2" y="66" text-anchor="end">Opx</text><text class="dj lg" x="614" y="69.1" text-anchor="start">Mag</text><text class="dj lg" x="550" y="107.2" text-anchor="end">Cpx</text><text class="dj lg" x="615.5" y="106.3" text-anchor="start">Bt</text><text class="dj lg" x="578" y="131.4" text-anchor="middle">Ol</text><rect x="1121.7" y="18.6" width="197.2" height="118.8" fill="#fff" stroke="#505050" stroke-width="1.2" stroke-dasharray="1.2 1.95"/><polygon class="h" points="1254.9,77.6 1238.5,106.1 1205.5,106.1 1189.1,77.6 1205.5,49.1 1238.5,49.1"/><path class="l" d="M1254.9 77.6L1189.1 77.6M1238.5 106.1L1205.5 49.1M1205.5 106.1L1238.5 49.1"/><text class="dj lg" x="1225.7" y="43.6" text-anchor="middle">Pl</text><text class="dj lg" x="1192.1" y="65.1" text-anchor="end">Opx</text><text class="dj lg" x="1256.9" y="68.2" text-anchor="start">Mag</text><text class="dj lg" x="1192.9" y="106.3" text-anchor="end">Cpx</text><text class="dj lg" x="1258.4" y="105.4" text-anchor="start">Bt</text><text class="dj lg" x="1220.9" y="130.5" text-anchor="middle">Ol</text><rect x="1764.7" y="18.6" width="197.2" height="118.8" fill="#fff" stroke="#505050" stroke-width="1.2" stroke-dasharray="1.2 1.95"/><polygon class="h" points="1897.7,77.6 1881.2,106.1 1848.3,106.1 1831.9,77.6 1848.3,49.1 1881.2,49.1"/><path class="l" d="M1897.7 77.6L1831.9 77.6M1881.2 106.1L1848.3 49.1M1848.3 106.1L1881.2 49.1"/><text class="dj lg" x="1868.5" y="43.6" text-anchor="middle">Pl</text><text class="dj lg" x="1834.9" y="65.1" text-anchor="end">Opx</text><text class="dj lg" x="1899.7" y="68.2" text-anchor="start">Mag</text><text class="dj lg" x="1835.7" y="106.3" text-anchor="end">Cpx</text><text class="dj lg" x="1901.2" y="105.4" text-anchor="start">Bt</text><text class="dj lg" x="1863.7" y="130.5" text-anchor="middle">Ol</text><text class="nt" x="70" y="33">(a)</text><text class="nt" x="733" y="32.8">(b)</text><text class="nt" x="1396.3" y="32.3">(c)</text><text class="dj t" x="116.5" y="101.5">P=250MPa, T=930°C</text><text class="dj t" x="758.5" y="101">P=250MPa, H2O=5%</text><text class="dj t" x="1400" y="101">T=900°C, wH2O=5%</text><text class="dj t" x="1622.3" y="138.5" text-anchor="middle" fill="#0000ff">H2O-excess</text><text class="dj" font-size="21.4px" x="459" y="229.9" text-anchor="middle" fill="#808000">Pl-Cpx-Mag</text><text class="dj" font-size="21.4px" x="606.9" y="804.4" text-anchor="middle" fill="#008000">Ol-bearing</text><text class="dj" font-size="21.4px" x="940" y="804.4" text-anchor="middle" fill="#008000">Ol-bearing</text><text class="dj t" x="402.5" y="890" text-anchor="middle">wH2O (mass%)</text><text class="dj t" x="1047" y="890" text-anchor="middle">T(°C)</text><text class="dj t" x="1692" y="890.5" text-anchor="middle">Pressure (MPa)</text><text class="ar" font-size="30.5px" transform="translate(28.8 571) rotate(-90)" textLength="69.3" lengthAdjust="spacingAndGlyphs">Δ<tspan font-style="italic">f</tspan>O2</text><text class="ar" font-size="30.5px" transform="translate(28.8 489) rotate(-90)" textLength="66" lengthAdjust="spacingAndGlyphs">from</text><text class="ar" font-size="30.5px" transform="translate(28.8 414) rotate(-90)" textLength="64.3" lengthAdjust="spacingAndGlyphs">QFM</text><text class="ar ta" x="193.9" y="853.6" text-anchor="middle">2</text><text class="ar ta" x="297.7" y="853.6" text-anchor="middle">3</text><text class="ar ta" x="401.5" y="853.6" text-anchor="middle">4</text><text class="ar ta" x="505.3" y="853.6" text-anchor="middle">5</text><text class="ar ta" x="609.1" y="853.6" text-anchor="middle">6</text><text class="ar ta" transform="translate(70.3 185.8) scale(0.97 1.05)" text-anchor="end">2.5</text><text class="ar ta" transform="translate(70.3 280.5) scale(0.97 1.05)" text-anchor="end">2</text><text class="ar ta" transform="translate(70.3 374) scale(0.97 1.05)" text-anchor="end">1.5</text><text class="ar ta" transform="translate(70.3 467.5) scale(0.97 1.05)" text-anchor="end">1</text><text class="ar ta" transform="translate(70.3 560.7) scale(0.97 1.05)" text-anchor="end">0.5</text><text class="ar ta" transform="translate(70.3 654) scale(0.97 1.05)" text-anchor="end">0</text><text class="ar ta" transform="translate(70.3 746.4) scale(0.97 1.05)" text-anchor="end">-0.5</text><text class="dj tb" x="835.7" y="856.7" text-anchor="middle">900</text><text class="dj tb" x="937.8" y="856.7" text-anchor="middle">950</text><text class="dj tb" x="1039.2" y="856.7" text-anchor="middle">1000</text><text class="dj tb" x="1140.8" y="856.7" text-anchor="middle">1050</text><text class="dj tb" x="1252.8" y="856.7" text-anchor="middle">1100</text><text class="ar ta" transform="translate(1486 853.9) scale(0.985 1.04)" text-anchor="middle">50</text><text class="ar ta" transform="translate(1597 853.9) scale(0.985 1.04)" text-anchor="middle">100</text><text class="ar ta" transform="translate(1702 853.9) scale(0.985 1.04)" text-anchor="middle">150</text><text class="ar ta" transform="translate(1804.3 853.9) scale(0.985 1.04)" text-anchor="middle">200</text><text class="ar ta" transform="translate(1908.3 853.9) scale(0.985 1.04)" text-anchor="middle">250</text></svg>
</body></html>
